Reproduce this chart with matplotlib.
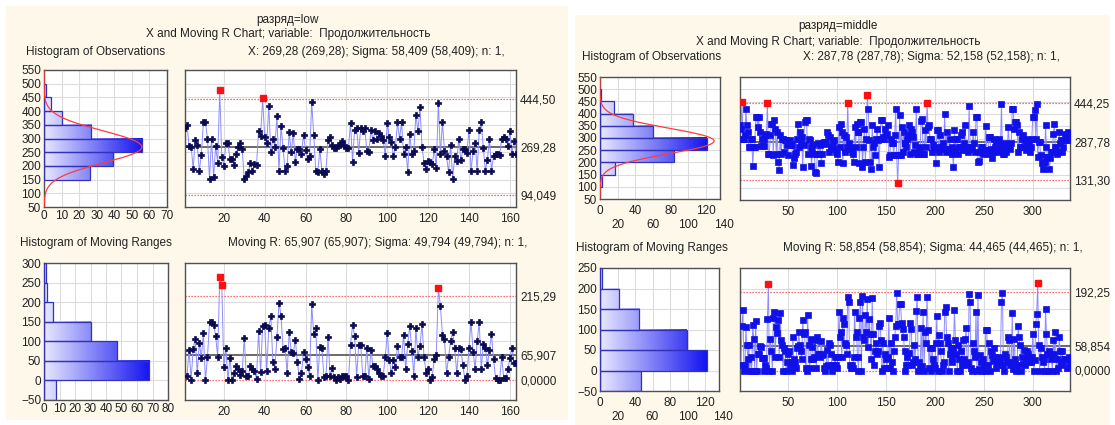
import numpy as np
import matplotlib.pyplot as plt
from matplotlib.colors import LinearSegmentedColormap
from matplotlib.patches import Rectangle

plt.rcParams['font.family'] = ['Liberation Sans', 'DejaVu Sans']

# ---- разряд=low ----
low_x = [338, 350, 272, 270, 190, 296, 278, 182, 240, 360,
         360, 300, 152, 300, 158, 272, 212, 477, 234, 200,
         284, 284, 226, 224, 205, 242, 270, 284, 260, 152,
         164, 176, 212, 182, 206, 202, 329, 308, 447, 306,
         282, 417, 252, 300, 270, 381, 182, 347, 266, 182,
         200, 324, 251, 320, 216, 263, 260, 242, 314, 258,
         224, 236, 432, 314, 180, 178, 263, 180, 170, 182,
         294, 306, 275, 266, 266, 275, 278, 290, 278, 266,
         266, 357, 216, 330, 338, 248, 338, 326, 338, 254,
         251, 330, 293, 329, 300, 320, 308, 296, 236, 357,
         306, 287, 236, 270, 359, 300, 359, 242, 270, 178,
         318, 242, 254, 387, 326, 414, 270, 210, 190, 218,
         216, 206, 260, 194, 431, 242, 359, 254, 236, 176,
         278, 154, 236, 218, 300, 220, 260, 260, 248, 332,
         182, 254, 284, 182, 330, 359, 266, 182, 222, 300,
         182, 236, 242, 242, 240, 300, 305, 300, 272, 329,
         245, 290, 245]
low_obs_edges = [150, 200, 250, 300, 350, 400, 450, 500]
low_obs_counts = [26, 39, 56, 27, 10, 4, 1]
low_mr_edges = [-50, 0, 50, 100, 150, 200, 250, 300]
low_mr_counts = [8, 68, 47, 30, 6, 2, 1]
low_x_cl, low_x_ucl, low_x_lcl, low_x_sigma = 269.28, 444.50, 94.049, 58.409
low_mr_cl, low_mr_ucl, low_mr_lcl, low_mr_sigma = 65.907, 215.29, 0.0, 49.794

# ---- разряд=middle ----
mid_x = [354, 340, 448, 300, 300, 313, 418, 356, 327, 266,
         266, 300, 300, 188, 266, 266, 387, 387, 347, 387,
         327, 269, 300, 269, 269, 300, 313, 320, 446, 235,
         235, 313, 360, 360, 232, 374, 340, 235, 327, 205,
         172, 313, 239, 300, 300, 246, 293, 293, 273, 232,
         280, 293, 273, 273, 192, 219, 239, 246, 300, 360,
         266, 327, 280, 307, 185, 273, 367, 374, 374, 239,
         300, 293, 266, 189, 246, 273, 239, 165, 158, 239,
         280, 239, 273, 201, 239, 280, 287, 287, 276, 327,
         313, 246, 307, 266, 266, 280, 293, 259, 246, 239,
         205, 347, 266, 360, 327, 199, 313, 246, 307, 266,
         446, 280, 266, 259, 246, 239, 205, 347, 266, 360,
         327, 327, 199, 367, 367, 185, 266, 340, 205, 300,
         475, 418, 293, 205, 176, 354, 266, 280, 232, 300,
         340, 293, 185, 300, 374, 374, 307, 300, 340, 313,
         320, 354, 226, 232, 300, 280, 280, 232, 313, 421,
         232, 118, 232, 394, 232, 347, 246, 327, 280, 280,
         266, 300, 313, 356, 239, 340, 327, 307, 246, 273,
         418, 239, 239, 259, 266, 370, 381, 239, 239, 333,
         266, 446, 347, 354, 300, 300, 246, 273, 259, 266,
         199, 333, 333, 246, 313, 266, 266, 280, 259, 401,
         246, 327, 259, 259, 300, 246, 266, 239, 185, 333,
         259, 300, 300, 239, 266, 266, 313, 327, 253, 280,
         356, 253, 266, 246, 432, 266, 259, 259, 327, 280,
         246, 388, 388, 205, 208, 246, 266, 266, 239, 253,
         253, 351, 253, 239, 307, 307, 259, 222, 246, 300,
         266, 273, 259, 246, 280, 300, 273, 441, 253, 239,
         239, 280, 246, 266, 347, 273, 259, 280, 421, 418,
         340, 367, 367, 354, 246, 327, 266, 266, 300, 316,
         266, 280, 253, 300, 259, 280, 246, 266, 300, 388,
         388, 414, 300, 439, 226, 287, 287, 232, 199, 178,
         205, 205, 356, 266, 226, 226, 178, 219, 246, 246,
         320, 360, 266, 266, 239, 246, 327, 280, 293, 246,
         266, 293, 320, 293, 300, 327, 293, 307]
mid_obs_edges = [100, 150, 200, 250, 300, 350, 400, 450, 500]
mid_obs_counts = [2, 17, 84, 121, 60, 37, 16, 1]
mid_mr_edges = [-50, 0, 50, 100, 150, 200, 250]
mid_mr_counts = [47, 122, 99, 45, 22, 2]
mid_x_cl, mid_x_ucl, mid_x_lcl, mid_x_sigma = 287.78, 444.25, 131.30, 52.158
mid_mr_cl, mid_mr_ucl, mid_mr_lcl, mid_mr_sigma = 58.854, 192.25, 0.0, 44.465

W, H = 1115, 425
CREAM = '#FDF8E9'
GRID = '#DCDCDC'
TXT = '#222222'
bar_cmap = LinearSegmentedColormap.from_list('bars', ['#E8E8FF', '#1414F0'])


def rect(x0, y0, x1, y1):
    return [x0 / W, 1 - y1 / H, (x1 - x0) / W, (y1 - y0) / H]


def num(v):
    # five significant digits, decimal comma
    ints = len(str(int(abs(v)))) if abs(v) >= 1 else 1
    return f'{v:.{max(5 - ints, 0)}f}'.replace('.', ',')


def style(ax):
    ax.set_facecolor('white')
    for s in ax.spines.values():
        s.set_color('#505050')
        s.set_linewidth(1.0)
    ax.tick_params(length=0, labelsize=8.5, colors=TXT, pad=2)


def hist(ax, edges, counts, ylim, yticks, xlim, xticks, xlabels, n=None, mean=None, sigma=None):
    style(ax)
    cmax = max(counts)
    for lo, hi, c in zip(edges[:-1], edges[1:], counts):
        if c <= 0:
            continue
        grad = np.linspace(0, c / cmax, 256).reshape(1, -1)
        ax.imshow(grad, cmap=bar_cmap, vmin=0, vmax=1, aspect='auto',
                  extent=(0, c, lo, hi), zorder=2, interpolation='bilinear')
        ax.add_patch(Rectangle((0, lo), c, hi - lo, fill=False,
                               edgecolor='#3232B8', lw=0.9, zorder=3))
    if n is not None:
        bw = edges[1] - edges[0]
        yy = np.linspace(ylim[0], ylim[1], 400)
        xx = n * bw * np.exp(-0.5 * ((yy - mean) / sigma) ** 2) / (sigma * np.sqrt(2 * np.pi))
        ax.plot(xx, yy, color='#FF3B3B', lw=0.9, zorder=4)
    ax.set_xlim(*xlim)
    ax.set_ylim(*ylim)
    ax.set_yticks(yticks)
    ax.set_xticks(xticks)
    ax.set_xticklabels(xlabels)
    ax.grid(True, color=GRID, lw=0.8, zorder=0)
    ax.set_axisbelow(True)


def chart(ax, idx, vals, cl, ucl, lcl, xlim, ylim, xticks, marker, mcolor, ms):
    style(ax)
    idx = np.asarray(idx)
    vals = np.asarray(vals, dtype=float)
    ax.set_xlim(*xlim)
    ax.set_ylim(*ylim)
    ax.set_xticks(xticks)
    ax.set_yticks(np.arange(ylim[0], ylim[1] + 1, 50), minor=True)
    ax.set_yticks([lcl, cl, ucl])
    ax.set_yticklabels([num(lcl), num(cl), num(ucl)])
    ax.yaxis.tick_right()
    ax.tick_params(which='both', length=0)
    ax.tick_params(axis='y', pad=3)
    ax.tick_params(axis='x', pad=4)
    ax.grid(True, which='minor', axis='y', color=GRID, lw=0.8)
    ax.grid(True, which='major', axis='x', color=GRID, lw=0.8)
    ax.set_axisbelow(True)
    ax.axhline(cl, color='#505050', lw=1.2, zorder=2)
    for lim in (ucl, lcl):
        ax.axhline(lim, color='#FF4040', lw=0.9, ls=(0, (1, 1.4)), zorder=2)
    ax.plot(idx, vals, color='#8C8CFF', lw=0.7, zorder=3)
    bad = (vals > ucl) | (vals < lcl) if lcl > 0 else vals > ucl
    ax.plot(idx[~bad], vals[~bad], ls='none', marker=marker, color=mcolor,
            mec=mcolor, ms=ms, mew=0.5, zorder=4)
    ax.plot(idx[bad], vals[bad], ls='none', marker='s', color='#FF1010',
            mec='#FF1010', ms=4.4, zorder=5)


def panel(fig, L, name, x, obs_edges, obs_counts, mr_edges, mr_counts,
          xc, xu, xl, xs, rc, ru, rl, rs, opts):
    x = np.asarray(x, dtype=float)
    n = len(x)
    idx = np.arange(1, n + 1)
    mr = np.abs(np.diff(x))
    bg = fig.add_axes(rect(*L['bg']), zorder=-5)
    bg.set_facecolor(CREAM)
    bg.set_xticks([])
    bg.set_yticks([])
    for s in bg.spines.values():
        s.set_visible(False)

    tx = dict(fontsize=8.5, color=TXT, va='center')
    fig.text(L['title'][0] / W, 1 - L['title'][1] / H, f'разряд={name}', ha='center', **tx)
    fig.text(L['title'][0] / W, 1 - L['title2'] / H,
             'X and Moving R Chart; variable:  Продолжительность', ha='center', **tx)
    fig.text(L['h1'][0] / W, 1 - L['h1'][1] / H, 'Histogram of Observations', ha='center', **tx)
    fig.text(L['s1'][0] / W, 1 - L['s1'][1] / H,
             f'X: {num(xc)} ({num(xc)}); Sigma: {num(xs)} ({num(xs)}); n: 1,', ha='left', **tx)
    fig.text(L['h2'][0] / W, 1 - L['h2'][1] / H, 'Histogram of Moving Ranges', ha='center', **tx)
    fig.text(L['s2'][0] / W, 1 - L['s2'][1] / H,
             f'Moving R: {num(rc)} ({num(rc)}); Sigma: {num(rs)} ({num(rs)}); n: 1,', ha='left', **tx)

    a1 = fig.add_axes(rect(*L['ax_h1']))
    hist(a1, obs_edges, obs_counts, (50, 550), np.arange(50, 551, 50),
         opts['h1_xlim'], opts['h1_xticks'], opts['h1_xlabels'], n=n, mean=xc, sigma=xs)
    a2 = fig.add_axes(rect(*L['ax_c1']))
    chart(a2, idx, x, xc, xu, xl, (1, opts['xmax']), (50, 550), opts['c_xticks'],
          opts['marker'], opts['mcolor'], opts['ms'])
    a3 = fig.add_axes(rect(*L['ax_h2']))
    hist(a3, mr_edges, mr_counts, opts['mr_ylim'], np.arange(opts['mr_ylim'][0], opts['mr_ylim'][1] + 1, 50),
         opts['h2_xlim'], opts['h2_xticks'], opts['h2_xlabels'])
    a4 = fig.add_axes(rect(*L['ax_c2']))
    chart(a4, idx[1:], mr, rc, ru, rl, (1, opts['xmax']), opts['mr_ylim'], opts['c_xticks'],
          opts['marker'], opts['mcolor'], opts['ms'])
    return a1, a3


fig = plt.figure(figsize=(W / 100, H / 100), dpi=100)
fig.patch.set_facecolor('white')

low_layout = dict(bg=(6, 6, 568, 420), title=(288, 20), title2=34,
                  h1=(96, 52), s1=(248, 52), h2=(96, 243), s2=(228, 243),
                  ax_h1=(44, 70, 167, 207), ax_c1=(185, 70, 516, 207),
                  ax_h2=(44, 263, 168, 400), ax_c2=(185, 263, 516, 400))
low_opts = dict(xmax=163, c_xticks=np.arange(20, 161, 20), marker='P', mcolor='#0A0A50', ms=5,
                mr_ylim=(-50, 300),
                h1_xlim=(0, 70), h1_xticks=np.arange(0, 71, 10), h1_xlabels=[str(v) for v in range(0, 71, 10)],
                h2_xlim=(0, 80), h2_xticks=np.arange(0, 81, 10), h2_xlabels=[str(v) for v in range(0, 81, 10)])
panel(fig, low_layout, 'low', low_x, low_obs_edges, low_obs_counts, low_mr_edges, low_mr_counts,
      low_x_cl, low_x_ucl, low_x_lcl, low_x_sigma, low_mr_cl, low_mr_ucl, low_mr_lcl, low_mr_sigma, low_opts)

# middle histograms: labels in two staggered rows
row1 = [0, 40, 80, 120]
row2 = [20, 60, 100, 140]
mid_layout = dict(bg=(575, 15, 1110, 425), title=(838, 26), title2=42,
                  h1=(652, 57), s1=(803, 57), h2=(652, 248), s2=(783, 248),
                  ax_h1=(600, 77, 720, 199), ax_c1=(740, 77, 1070, 200),
                  ax_h2=(600, 268, 719, 391), ax_c2=(740, 268, 1070, 391))
mid_opts = dict(xmax=338, c_xticks=np.arange(50, 301, 50), marker='s', mcolor='#1010E8', ms=4.4,
                mr_ylim=(-50, 250),
                h1_xlim=(0, 136), h1_xticks=row1, h1_xlabels=[str(v) for v in row1],
                h2_xlim=(0, 136), h2_xticks=row1, h2_xlabels=[str(v) for v in row1])
m1, m3 = panel(fig, mid_layout, 'middle', mid_x, mid_obs_edges, mid_obs_counts, mid_mr_edges, mid_mr_counts,
               mid_x_cl, mid_x_ucl, mid_x_lcl, mid_x_sigma, mid_mr_cl, mid_mr_ucl, mid_mr_lcl, mid_mr_sigma, mid_opts)
for a in (m1, m3):
    a.grid(False)
    a.set_xticks(row1 + row2[:-1])
    a.set_xticklabels([str(v) for v in row1] + [''] * 3)
    a.grid(True, color=GRID, lw=0.8, zorder=0)
    a.tick_params(axis='x', pad=4)
    for v in row2:
        a.annotate(str(v), xy=(v, 0), xycoords=('data', 'axes fraction'), xytext=(0, -19),
                   textcoords='offset points', ha='center', va='center', fontsize=8.5,
                   color=TXT, annotation_clip=False)

fig.savefig('out.png', dpi=100, facecolor='white')
